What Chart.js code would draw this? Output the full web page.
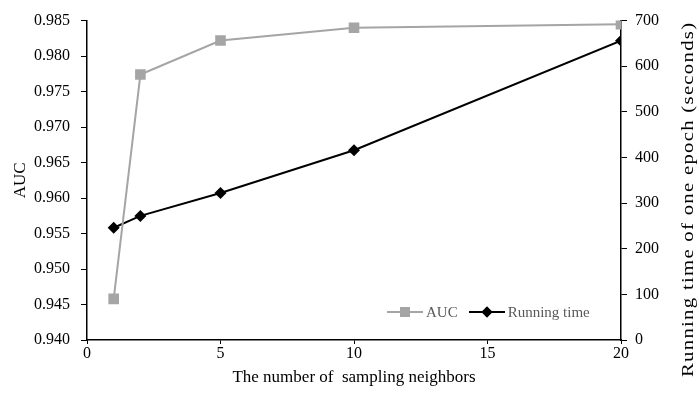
<!DOCTYPE html>
<html>
<head>
<meta charset="utf-8">
<script src="https://cdn.jsdelivr.net/npm/chart.js@4.4.1/dist/chart.umd.min.js"></script>
<style>
  html, body { margin: 0; padding: 0; background: #fff; }
  .graph-area { position: relative; width: 699px; height: 393px; }
  #customLegend {
    position: absolute; left: 387px; top: 302px;
    display: flex; align-items: center;
    font-family: 'Liberation Serif', 'Times New Roman', serif;
    font-size: 15px; color: #595959;
  }
  #customLegend .item { display: flex; align-items: center; margin-right: 11px; }
  #customLegend .mark { position: relative; width: 36px; height: 20px; margin-right: 3px; }
  #customLegend .mark .ln { position: absolute; left: 0; right: 0; top: 9px; height: 2px; }
  #customLegend .mark .sq { position: absolute; left: 13px; top: 5px; width: 10px; height: 10px; }
  #customLegend .mark .dm { position: absolute; left: 14px; top: 6px; width: 8px; height: 8px; transform: rotate(45deg); }
  #rightTitle {
    position: absolute; left: 688px; top: 199px;
    font-family: 'Liberation Serif', 'Times New Roman', serif;
    font-size: 16px; color: #000; white-space: nowrap;
    letter-spacing: 1px;
    transform-origin: 0 0;
  }
</style>
</head>
<body>
<div class="graph-area">
  <canvas id="chart" width="699" height="393"></canvas>
  <span id="rightTitle">Running time of one epoch (seconds)</span>
</div>
<script>
  // Setup Block
  const neighbors   = [1, 2, 5, 10, 20];
  const aucValues   = [0.9458, 0.9774, 0.9822, 0.9840, 0.9845];
  const runningTime = [246, 272, 322, 416, 656];
  const seriesNames = ['AUC', 'Running time'];

  const aucColor  = '#A5A5A5';
  const timeColor = '#000000';

  Chart.defaults.font.family = "'Liberation Serif', 'Times New Roman', serif";
  Chart.defaults.color = '#000';

  const toPoints = (xs, ys) => xs.map((x, i) => ({ x: x, y: ys[i] }));

  const data = {
    datasets: [
      {
        label: seriesNames[0],
        data: toPoints(neighbors, aucValues),
        yAxisID: 'y',
        borderColor: aucColor,
        backgroundColor: aucColor,
        borderWidth: 2,
        pointStyle: 'rect',
        pointRadius: 7.5,
        pointBorderWidth: 0,
        tension: 0,
      },
      {
        label: seriesNames[1],
        data: toPoints(neighbors, runningTime),
        yAxisID: 'y1',
        borderColor: timeColor,
        backgroundColor: timeColor,
        borderWidth: 2,
        pointStyle: 'rectRot',
        pointRadius: 6,
        pointBorderWidth: 0,
        tension: 0,
      },
    ],
  };

  const axisGrid = {
    drawOnChartArea: false,
    drawTicks: true,
    tickLength: 6,
    tickColor: '#000',
    tickWidth: 1,
  };

  // Config block
  const config = {
    type: 'line',
    data,
    options: {
      responsive: false,
      animation: false,
      layout: { padding: { top: 19, left: 0, right: 0, bottom: 0 } },
      scales: {
        x: {
          type: 'linear',
          min: 0, max: 20,
          grid: { ...axisGrid, tickLength: 4 },
          border: { display: true, color: '#000', width: 1.5 },
          ticks: { stepSize: 5, font: { size: 16 }, padding: 0 },
          title: {
            display: true,
            text: 'The number of  sampling neighbors',
            font: { size: 17 },
            padding: { top: 0, bottom: 5 },
          },
          afterFit: (scale) => { scale.height = 53; },
        },
        y: {
          position: 'left',
          min: 0.94, max: 0.985,
          grid: axisGrid,
          border: { display: true, color: '#000', width: 1.5 },
          ticks: {
            stepSize: 0.005, font: { size: 16 }, padding: 11,
            callback: (v) => v.toFixed(3),
          },
          title: {
            display: true, text: 'AUC', font: { size: 17 },
            padding: { top: 10, bottom: 0 },
          },
          afterFit: (scale) => { scale.width = 87; },
        },
        y1: {
          position: 'right',
          min: 0, max: 700,
          grid: axisGrid,
          border: { display: true, color: '#000', width: 1.5 },
          ticks: { stepSize: 100, font: { size: 16 }, padding: 8 },
          title: { display: false },
          afterFit: (scale) => { scale.width = 78; },
        },
      },
      plugins: {
        legend: { display: false },
        tooltip: { enabled: false },
      },
    },
  };

  // render block
  const mychart = new Chart(document.getElementById('chart'), config);

  // right axis title reads bottom-to-top, stretched to the plot height like the original
  function placeRightTitle() {
    const el = document.getElementById('rightTitle');
    const w = el.offsetWidth;
    const h = el.offsetHeight;
    const target = 356;
    const s = target / w;
    el.style.transform =
      'rotate(-90deg) translate(' + (-w * s / 2) + 'px,' + (-h / 2) + 'px) scaleX(' + s + ')';
  }
  placeRightTitle();

  // legend inside the plot area, bottom right
  function generateLegend() {
    const box = document.querySelector('.graph-area');
    const div = document.createElement('DIV');
    div.setAttribute('id', 'customLegend');
    mychart.data.datasets.forEach((ds, i) => {
      const item = document.createElement('DIV');
      item.className = 'item';
      const mark = document.createElement('DIV');
      mark.className = 'mark';
      const ln = document.createElement('DIV');
      ln.className = 'ln';
      ln.style.background = ds.borderColor;
      const pt = document.createElement('DIV');
      pt.className = i === 0 ? 'sq' : 'dm';
      pt.style.background = ds.backgroundColor;
      mark.appendChild(ln);
      mark.appendChild(pt);
      const txt = document.createElement('SPAN');
      txt.textContent = ds.label;
      item.appendChild(mark);
      item.appendChild(txt);
      div.appendChild(item);
    });
    box.appendChild(div);
  }
  generateLegend();
</script>
</body>
</html>
